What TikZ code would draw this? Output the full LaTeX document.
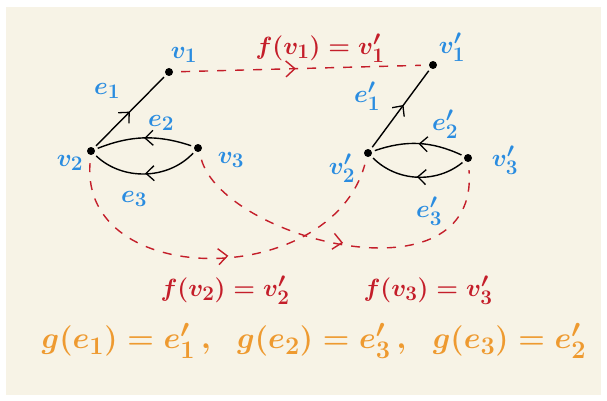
\documentclass[tikz,border=0pt]{standalone}
\usepackage{graphicx}
\usetikzlibrary{arrows.meta,decorations.markings}
\definecolor{cream}{HTML}{F7F3E6}
\definecolor{lblue}{HTML}{2A8CE0}
\definecolor{fred}{HTML}{C41E2A}
\definecolor{gorange}{HTML}{EE9A30}
\tikzset{
  vtx/.style={circle,fill=black,inner sep=0pt,minimum size=8pt},
  lab/.style={text=lblue,font=\fontsize{24.88}{30}\selectfont\boldmath,inner sep=0pt},
  flab/.style={text=fred,font=\fontsize{24.88}{30}\selectfont\boldmath,inner sep=0pt},
  edge/.style={draw=black,line width=1.4pt,shorten <=3pt,shorten >=3pt},
  midarrow/.style={postaction={decorate},decoration={markings,
     mark=at position #1 with {\arrow{Straight Barb[length=8pt,width=15pt,line width=1.3pt]}}}},
  midarrow/.default=0.5,
  fmap/.style={draw=fred,line width=1.4pt,dash pattern=on 9pt off 9pt,shorten <=8pt,shorten >=8pt},
  fmid/.style={postaction={decorate},decoration={markings,
     mark=at position #1 with {\arrow[fred,solid]{Straight Barb[length=9pt,width=16pt,line width=1.4pt]}}}}
}
\begin{document}
\begin{tikzpicture}[x=1pt,y=-1pt]
\fill[white] (0,0) rectangle (607,401);
\fill[cream] (6,7) rectangle (601,395);
\useasboundingbox (0,0) rectangle (607,401);

% left graph
\node[vtx] (v1) at (169,72) {};
\node[vtx] (v2) at (91,151) {};
\node[vtx] (v3) at (198,148) {};
% right graph
\node[vtx] (w1) at (433,65) {};
\node[vtx] (w2) at (368,153) {};
\node[vtx] (w3) at (468,158) {};

% black edges
\draw[edge,midarrow] (v2) -- (v1);
\draw[edge,midarrow] (v3) to[bend right=20] (v2);
\draw[edge,midarrow] (v3) to[bend left=45] (v2);
\draw[edge,midarrow=0.55] (w2) -- (w1);
\draw[edge,midarrow] (w3) to[bend right=22] (w2);
\draw[edge,midarrow] (w3) to[bend left=42] (w2);

% red maps
\draw[fmap,fmid=0.48] (v1) -- (w1);
\draw[fmap,fmid=0.52] (v2) .. controls (80,290) and (330,290) .. (w2);
\draw[fmap,fmid=0.5] (v3) .. controls (225,240) and (480,305) .. (w3);

% labels
\node[lab] (lv1) at (184,55) {$v_1$};
\node[lab] (lv2) at (70,163) {$v_2$};
\node[lab] (lv3) at (231,160) {$v_3$};
\node[lab] (le1) at (107,91) {$e_1$};
\node[lab] (le2) at (161,123) {$e_2$};
\node[lab] (le3) at (134,199) {$e_3$};
\node[lab] (lw1) at (452,47) {$v_1'$};
\node[lab] (lw2) at (342,168) {$v_2'$};
\node[lab] (lw3) at (505,160) {$v_3'$};
\node[lab] (lf1) at (367,96) {$e_1'$};
\node[lab] (lf2) at (445,124) {$e_2'$};
\node[lab] (lf3) at (429,211) {$e_3'$};

\node[flab] (m1) at (320,48) {$f(v_1)=v_1'$};
\node[flab] (m2) at (225,290) {$f(v_2)=v_2'$};
\node[flab] (m3) at (428,290) {$f(v_3)=v_3'$};

\node[text=gorange,font=\fontsize{24.88}{30}\selectfont\boldmath,inner sep=0pt] (g) at (314,341)
  {\scalebox{1.22}{$g(e_1)=e_1'\,,\hspace{17pt} g(e_2)=e_3'\,,\hspace{17pt} g(e_3)=e_2'$}};
\end{tikzpicture}
\end{document}
